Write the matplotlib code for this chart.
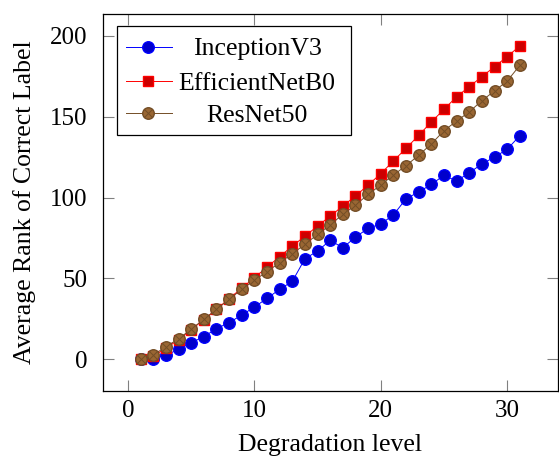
import matplotlib
matplotlib.use("Agg")
import matplotlib.pyplot as plt
from matplotlib.lines import Line2D
from matplotlib.patches import Rectangle

levels = list(range(1, 32))
inception = [0, 0.5, 2.5, 6.2, 10.3, 14, 19, 22.7, 27.4, 32.3, 37.7, 43.3, 48.2, 62.2, 67,
             73.6, 69, 75.6, 81, 83.7, 89.3, 99.3, 103.5, 108.2, 113.8, 110.3, 115.4,
             120.8, 125.1, 129.9, 138.3]
efficient = [0, 2, 6.8, 12.2, 18.4, 24.6, 30.9, 37.6, 44, 50.5, 57, 63.5, 70, 76.2, 82.4,
             88.6, 94.8, 101, 107.8, 114.8, 122.7, 130.5, 138.5, 146.8, 154.6, 162.4,
             168.6, 174.8, 181, 187.2, 193.8]
resnet = [0, 2.7, 7.8, 12.7, 18.6, 24.7, 30.9, 37.1, 43.3, 48.9, 54.2, 59.8, 65.3, 71.1,
          77.3, 83.1, 89.7, 95.4, 102, 107.8, 114, 119.8, 126.2, 133.2, 141.4, 147.4,
          153, 160, 166, 172.1, 181.8]
series_names = ["InceptionV3", "EfficientNetB0", "ResNet50"]
xticks = [0, 10, 20, 30]
yticks = [0, 50, 100, 150, 200]

plt.rcParams['font.family'] = ['Liberation Serif', 'DejaVu Serif']

fig = plt.figure(figsize=(5.59, 4.57), dpi=100)
ax = fig.add_axes([102.7/559, 1 - 390.7/457, (557.7-102.7)/559, (390.7-14.3)/457])

styles = [
    dict(color='#0000FF', marker='o', mfc='#0000CC', mec='#0000FF', ms=8.3),
    dict(color='#FF0000', marker='s', mfc='#CC0000', mec='#FF0000', ms=7.8),
    dict(color='#734D26', marker='o', mfc='#996633', mec='#734D26', ms=8.3),
]
data = [inception, efficient, resnet]
for vals, st in zip(data, styles):
    ax.plot(levels, vals, lw=0.7, **st)
# otimes crosses for ResNet50
ax.plot(levels, resnet, ls='none', marker='x', ms=5.3, mec='#734D26', mew=0.7)

ax.set_xlim(-2, 34)
ax.set_ylim(-19.4, 213.4)
ax.set_xticks(xticks)
ax.set_yticks(yticks)
ax.tick_params(direction='in', length=8, width=0.8, color='#808080',
               top=True, right=True, labelsize=18)
ax.tick_params(axis='x', pad=7)
ax.tick_params(axis='y', pad=11)
for s in ax.spines.values():
    s.set_linewidth(0.9)
    s.set_color('black')
ax.set_xlabel("Degradation level", fontsize=18.5, labelpad=8)
ax.set_ylabel("Average Rank of Correct Label", fontsize=18.5, labelpad=10)

# legend box (pgfplots style, centered labels)
def fx(px):
    return (px - 102.7) / (557.7 - 102.7)
def fy(py):
    return (390.7 - py) / (390.7 - 14.3)

ax.add_patch(Rectangle((fx(117), fy(135)), fx(351) - fx(117), fy(26) - fy(135),
                       transform=ax.transAxes, facecolor='white', edgecolor='black',
                       lw=0.9, zorder=5))
rows_y = [46.7, 81, 113.3]
for name, st, ry, idx in zip(series_names, styles, rows_y, range(3)):
    ax.add_line(Line2D([fx(126), fx(171.7)], [fy(ry), fy(ry)], transform=ax.transAxes,
                       color=st['color'], lw=0.7, zorder=6))
    ax.add_line(Line2D([fx(148)], [fy(ry)], transform=ax.transAxes, ls='none',
                       marker=st['marker'], mfc=st['mfc'], mec=st['mec'], ms=st['ms'],
                       zorder=7))
    if idx == 2:
        ax.add_line(Line2D([fx(148)], [fy(ry)], transform=ax.transAxes, ls='none',
                           marker='x', ms=5.3, mec='#734D26', mew=0.7, zorder=8))
    ax.text(fx(257), fy(ry), name, transform=ax.transAxes, ha='center', va='center_baseline',
            fontsize=18.5, zorder=8)

fig.savefig("out.png", dpi=100)
